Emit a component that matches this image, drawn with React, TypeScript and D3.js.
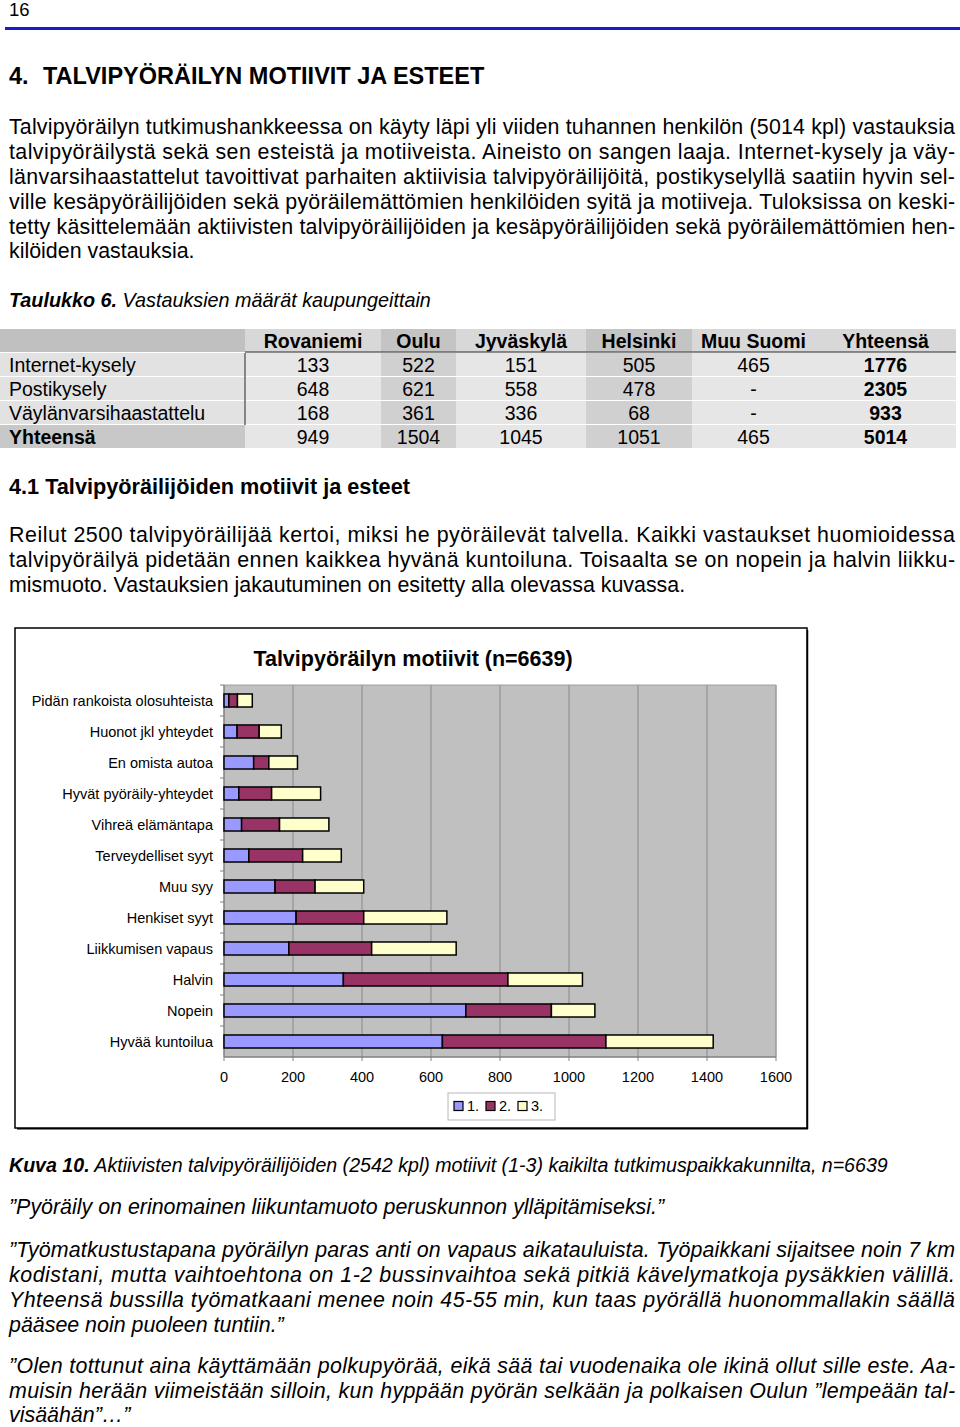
import React from "react"
import * as d3 from "d3"

const FONT = "'Liberation Sans', Arial, Helvetica, sans-serif"

// chart data
const categories = [
  "Pidän rankoista olosuhteista",
  "Huonot jkl yhteydet",
  "En omista autoa",
  "Hyvät pyöräily-yhteydet",
  "Vihreä elämäntapa",
  "Terveydelliset syyt",
  "Muu syy",
  "Henkiset syyt",
  "Liikkumisen vapaus",
  "Halvin",
  "Nopein",
  "Hyvää kuntoilua",
]
const first = [14, 38, 86, 43, 51, 72, 148, 209, 188, 346, 701, 633]
const second = [25, 64, 44, 95, 110, 156, 116, 196, 240, 477, 248, 474]
const third = [43, 64, 83, 142, 143, 112, 141, 241, 245, 216, 126, 311]
const seriesNames = ["1.", "2.", "3."]
const seriesColors = ["#9999ff", "#993366", "#ffffcc"]
const xTicks = [0, 200, 400, 600, 800, 1000, 1200, 1400, 1600]

// table data
const tableCols = ["Rovaniemi", "Oulu", "Jyväskylä", "Helsinki", "Muu Suomi", "Yhteensä"]
const tableRows = ["Internet-kysely", "Postikysely", "Väylänvarsihaastattelu", "Yhteensä"]
const tableValues = [
  ["133", "522", "151", "505", "465", "1776"],
  ["648", "621", "558", "478", "-", "2305"],
  ["168", "361", "336", "68", "-", "933"],
  ["949", "1504", "1045", "1051", "465", "5014"],
]

// page text
const para1 = [
  "Talvipyöräilyn tutkimushankkeessa on käyty läpi yli viiden tuhannen henkilön (5014 kpl) vastauksia",
  "talvipyöräilystä sekä sen esteistä ja motiiveista. Aineisto on sangen laaja. Internet-kysely ja väy-",
  "länvarsihaastattelut tavoittivat parhaiten aktiivisia talvipyöräilijöitä, postikyselyllä saatiin hyvin sel-",
  "ville kesäpyöräilijöiden sekä pyöräilemättömien henkilöiden syitä ja motiiveja. Tuloksissa on keski-",
  "tetty käsittelemään aktiivisten talvipyöräilijöiden ja kesäpyöräilijöiden sekä pyöräilemättömien hen-",
  "kilöiden vastauksia.",
]
const para2 = [
  "Reilut 2500 talvipyöräilijää kertoi, miksi he pyöräilevät talvella. Kaikki vastaukset huomioidessa",
  "talvipyöräilyä pidetään ennen kaikkea hyvänä kuntoiluna. Toisaalta se on nopein ja halvin liikku-",
  "mismuoto. Vastauksien jakautuminen on esitetty alla olevassa kuvassa.",
]
const quote1 = ["”Pyöräily on erinomainen liikuntamuoto peruskunnon ylläpitämiseksi.”"]
const quote2 = [
  "”Työmatkustustapana pyöräilyn paras anti on vapaus aikatauluista. Työpaikkani sijaitsee noin 7 km",
  "kodistani, mutta vaihtoehtona on 1-2 bussinvaihtoa sekä pitkiä kävelymatkoja pysäkkien välillä.",
  "Yhteensä bussilla työmatkaani menee noin 45-55 min, kun taas pyörällä huonommallakin säällä",
  "pääsee noin puoleen tuntiin.”",
]
const quote3 = [
  "”Olen tottunut aina käyttämään polkupyörää, eikä sää tai vuodenaika ole ikinä ollut sille este. Aa-",
  "muisin herään viimeistään silloin, kun hyppään pyörän selkään ja polkaisen Oulun ”lempeään tal-",
  "visäähän”…”",
]

// justified paragraph: every line but the last is stretched to the full width
const Paragraph = ({ lines, y, italic = false, size = 21.4, lead = 24.8 }) => (
  <g fontFamily={FONT} fontSize={size} fontStyle={italic ? "italic" : "normal"} fill="#000">
    {lines.map((line, i) => (
      <text
        key={i}
        x={9}
        y={y + i * lead}
        dy="0.35em"
        textLength={i < lines.length - 1 ? 946 : undefined}
        lengthAdjust="spacing"
      >
        {line}
      </text>
    ))}
  </g>
)

const Table = () => {
  const colEdges = [245, 381, 456, 586, 692, 815, 956]
  const top = 329
  const rowH = 24
  const darkCol = (j) => j === 1 || j === 3
  return (
    <g fontFamily={FONT} fontSize={19.5}>
      {/* header row */}
      <rect x={0} y={top} width={245} height={rowH - 1} fill="#c0c0c0" />
      {tableCols.map((c, j) => (
        <rect
          key={c}
          x={colEdges[j]}
          y={top}
          width={colEdges[j + 1] - colEdges[j]}
          height={rowH - 1}
          fill={darkCol(j) ? "#c4c4c4" : "#d8d8d8"}
        />
      ))}
      {tableCols.map((c, j) => (
        <text
          key={c}
          x={(colEdges[j] + colEdges[j + 1]) / 2}
          y={top + rowH / 2}
          dy="0.35em"
          textAnchor="middle"
          fontWeight="bold"
        >
          {c}
        </text>
      ))}
      {tableRows.map((r, i) => {
        const y = top + rowH * (i + 1)
        return (
          <g key={r}>
            <rect
              x={0}
              y={y}
              width={245}
              height={rowH - 1}
              fill={i === tableRows.length - 1 ? "#c8c8c8" : "#e2e2e2"}
            />
            {tableCols.map((c, j) => (
              <rect
                key={c}
                x={colEdges[j]}
                y={y}
                width={colEdges[j + 1] - colEdges[j]}
                height={rowH - 1}
                fill={darkCol(j) ? "#d0d0d0" : "#e6e6e6"}
              />
            ))}
            <text x={9} y={y + rowH / 2} dy="0.35em" fontWeight={i === tableRows.length - 1 ? "bold" : "normal"}>
              {r}
            </text>
            {tableValues[i].map((v, j) => (
              <text
                key={j}
                x={(colEdges[j] + colEdges[j + 1]) / 2}
                y={y + rowH / 2}
                dy="0.35em"
                textAnchor="middle"
                fontWeight={j === tableCols.length - 1 ? "bold" : "normal"}
              >
                {v}
              </text>
            ))}
          </g>
        )
      })}
      <line x1={245} x2={956} y1={top + rowH - 1} y2={top + rowH - 1} stroke="#666" strokeWidth={1.5} />
      <line x1={245} x2={245} y1={top + rowH} y2={top + rowH * 4} stroke="#666" strokeWidth={1.5} />
    </g>
  )
}

const Chart = () => {
  const x = d3.scaleLinear().domain([0, 1600]).range([224, 776])
  const y = d3.scaleBand().domain(categories).range([685, 1057]).paddingInner(0.58).paddingOuter(0.29)

  const rows = categories.map((c, i) => ({ cat: c, s0: first[i], s1: second[i], s2: third[i] }))
  const stacked = d3.stack().keys(["s0", "s1", "s2"])(rows)

  const plotTop = 685
  const plotBottom = 1057

  return (
    <g fontFamily={FONT}>
      {/* frame */}
      <rect x={15} y={628} width={792} height={500} fill="#fff" stroke="#000" strokeWidth={1.5} />
      <line x1={807.5} x2={807.5} y1={630} y2={1129} stroke="#000" strokeWidth={1.5} />
      <line x1={17} x2={808} y1={1128.8} y2={1128.8} stroke="#000" strokeWidth={1.5} />

      <text x={413} y={658} dy="0.35em" textAnchor="middle" fontSize={21.5} fontWeight="bold">
        Talvipyöräilyn motiivit (n=6639)
      </text>

      {/* plot area */}
      <rect x={x(0)} y={plotTop} width={x(1600) - x(0)} height={plotBottom - plotTop} fill="#c0c0c0" />
      {xTicks.slice(1).map((t) => (
        <line key={t} x1={x(t)} x2={x(t)} y1={plotTop} y2={plotBottom} stroke="#8a8a8a" strokeWidth={1} />
      ))}
      <line x1={x(1600)} x2={x(1600)} y1={plotTop} y2={plotBottom} stroke="#a0a0a0" />
      <line x1={x(0)} x2={x(1600)} y1={plotTop} y2={plotTop} stroke="#a0a0a0" />

      {/* axes */}
      <line x1={x(0)} x2={x(0)} y1={plotTop} y2={plotBottom} stroke="#808080" strokeWidth={1.5} />
      <line x1={x(0)} x2={x(1600)} y1={plotBottom} y2={plotBottom} stroke="#808080" strokeWidth={1.5} />
      {categories.map((c) => (
        <line
          key={c}
          x1={x(0) - 4}
          x2={x(0)}
          y1={y(c) - (y.step() - y.bandwidth()) / 2}
          y2={y(c) - (y.step() - y.bandwidth()) / 2}
          stroke="#808080"
        />
      ))}
      {xTicks.map((t) => (
        <g key={t}>
          <line x1={x(t)} x2={x(t)} y1={plotBottom} y2={plotBottom + 4} stroke="#808080" />
          <text x={x(t)} y={1077} dy="0.35em" textAnchor="middle" fontSize={14.5}>
            {t}
          </text>
        </g>
      ))}

      {/* bars */}
      {stacked.map((layer, k) => (
        <g key={layer.key} fill={seriesColors[k]} stroke="#000" strokeWidth={1.5}>
          {layer.map((d) => (
            <rect
              key={d.data.cat}
              x={x(d[0])}
              y={y(d.data.cat)}
              width={x(d[1]) - x(d[0])}
              height={y.bandwidth()}
            />
          ))}
        </g>
      ))}

      {/* category labels */}
      {categories.map((c) => (
        <text key={c} x={213} y={y(c) + y.bandwidth() / 2} dy="0.35em" textAnchor="end" fontSize={14.5}>
          {c}
        </text>
      ))}

      {/* legend */}
      <rect x={448} y={1093} width={107} height={27} fill="#fff" stroke="#b8b8b8" />
      {seriesNames.map((s, k) => (
        <g key={s} transform={`translate(${454 + k * 32}, 1106)`}>
          <rect x={0} y={-4.5} width={9} height={9} fill={seriesColors[k]} stroke="#000" strokeWidth={1.2} />
          <text x={13} y={0} dy="0.35em" fontSize={14.5}>
            {s}
          </text>
        </g>
      ))}
    </g>
  )
}

export default function App() {
  return (
    <svg
      width={960}
      height={1427}
      style={{ position: "absolute", left: 0, top: 0, background: "#fff" }}
    >
      <rect width={960} height={1427} fill="#fff" />
      <text x={9} y={10} dy="0.35em" fontFamily={FONT} fontSize={18.5}>
        16
      </text>
      <line x1={5} x2={960} y1={28.5} y2={28.5} stroke="#1a1acc" strokeWidth={3} />

      <g fontFamily={FONT} fontSize={23.5} fontWeight="bold">
        <text x={9} y={76} dy="0.35em">4.</text>
        <text x={43} y={76} dy="0.35em">TALVIPYÖRÄILYN MOTIIVIT JA ESTEET</text>
      </g>

      <Paragraph lines={para1} y={127} />

      <text x={9} y={300} dy="0.35em" fontFamily={FONT} fontSize={19.8} fontStyle="italic">
        <tspan fontWeight="bold">Taulukko 6.</tspan> Vastauksien määrät kaupungeittain
      </text>

      <Table />

      <text x={9} y={486} dy="0.35em" fontFamily={FONT} fontSize={21.7} fontWeight="bold">
        4.1 Talvipyöräilijöiden motiivit ja esteet
      </text>

      <Paragraph lines={para2} y={535} />

      <Chart />

      <text x={9} y={1165} dy="0.35em" fontFamily={FONT} fontSize={19.6} fontStyle="italic">
        <tspan fontWeight="bold">Kuva 10.</tspan> Aktiivisten talvipyöräilijöiden (2542 kpl) motiivit (1-3) kaikilta
        tutkimuspaikkakunnilta, n=6639
      </text>

      <Paragraph lines={quote1} y={1207} italic />
      <Paragraph lines={quote2} y={1250} italic />
      <Paragraph lines={quote3} y={1366} italic lead={24.2} />
    </svg>
  )
}
